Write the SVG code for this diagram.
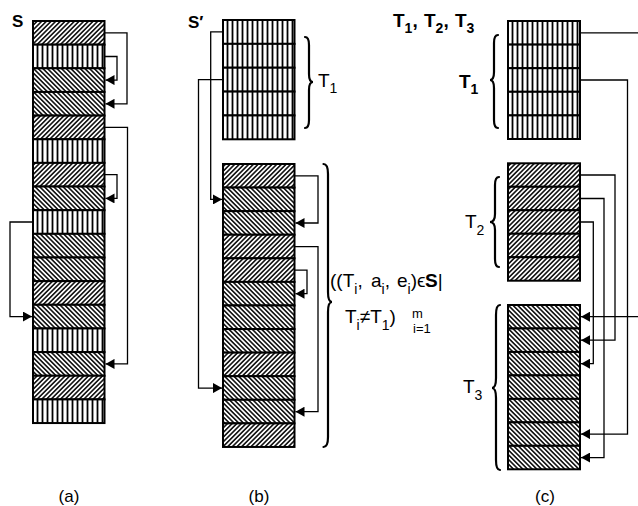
<svg xmlns="http://www.w3.org/2000/svg" width="638" height="506" viewBox="0 0 638 506">
<style>
.row{stroke:#000;stroke-width:2}
.v{fill:url(#pv)}
.f{fill:url(#pf)}
.b{fill:url(#pb)}
.con{fill:none;stroke:#000;stroke-width:1.3;marker-end:url(#ah)}
.brace{fill:none;stroke:#000;stroke-width:2.2;stroke-linecap:round}
text{font-family:"Liberation Sans",Arial,Helvetica,sans-serif;fill:#000}
.lbl{font-size:19px}
.bold{font-weight:bold}
.sub{font-size:14px}
.sm{font-size:13px}
.cap{font-size:17px}
</style>
<defs>
<pattern id="pv" patternUnits="userSpaceOnUse" width="5" height="8"><rect width="5" height="8" fill="#fff"/><line x1="2.5" y1="0" x2="2.5" y2="8" stroke="#000" stroke-width="1.8"/></pattern>
<pattern id="pf" patternUnits="userSpaceOnUse" width="3.3" height="8" patternTransform="rotate(45)"><rect width="3.3" height="8" fill="#fff"/><line x1="1.65" y1="0" x2="1.65" y2="8" stroke="#000" stroke-width="1.5"/></pattern>
<pattern id="pb" patternUnits="userSpaceOnUse" width="3.3" height="8" patternTransform="rotate(-45)"><rect width="3.3" height="8" fill="#fff"/><line x1="1.65" y1="0" x2="1.65" y2="8" stroke="#000" stroke-width="1.5"/></pattern>
<marker id="ah" markerUnits="userSpaceOnUse" markerWidth="10" markerHeight="10" refX="9" refY="5" orient="auto"><path d="M0,0 L9,5 L0,10 z" fill="#000"/></marker>
</defs>
<rect width="638" height="506" fill="#fff"/>

<!-- (a) sequence S -->
<g id="seqS">
<rect id="a1" class="row f" x="33" y="21" width="71.5" height="23.65"/>
<rect id="a2" class="row v" x="33" y="44.65" width="71.5" height="23.65"/>
<rect id="a3" class="row b" x="33" y="68.3" width="71.5" height="23.65"/>
<rect id="a4" class="row b" x="33" y="91.95" width="71.5" height="23.65"/>
<rect id="a5" class="row f" x="33" y="115.6" width="71.5" height="23.65"/>
<rect id="a6" class="row v" x="33" y="139.25" width="71.5" height="23.65"/>
<rect id="a7" class="row f" x="33" y="162.9" width="71.5" height="23.65"/>
<rect id="a8" class="row b" x="33" y="186.55" width="71.5" height="23.65"/>
<rect id="a9" class="row v" x="33" y="210.2" width="71.5" height="23.65"/>
<rect id="a10" class="row b" x="33" y="233.85" width="71.5" height="23.65"/>
<rect id="a11" class="row b" x="33" y="257.5" width="71.5" height="23.65"/>
<rect id="a12" class="row f" x="33" y="281.15" width="71.5" height="23.65"/>
<rect id="a13" class="row b" x="33" y="304.8" width="71.5" height="23.65"/>
<rect id="a14" class="row v" x="33" y="328.45" width="71.5" height="23.65"/>
<rect id="a15" class="row b" x="33" y="352.1" width="71.5" height="23.65"/>
<rect id="a16" class="row f" x="33" y="375.75" width="71.5" height="23.65"/>
<rect id="a17" class="row v" x="33" y="399.4" width="71.5" height="23.65"/>
</g>

<!-- (b) T1 block -->
<g id="sT1">
<rect id="bt1" class="row v" x="223" y="20" width="71.5" height="23.86"/>
<rect id="bt2" class="row v" x="223" y="43.86" width="71.5" height="23.86"/>
<rect id="bt3" class="row v" x="223" y="67.72" width="71.5" height="23.86"/>
<rect id="bt4" class="row v" x="223" y="91.58" width="71.5" height="23.86"/>
<rect id="bt5" class="row v" x="223" y="115.44" width="71.5" height="23.86"/>
</g>

<!-- (b) other block -->
<g id="sRest">
<rect id="b1" class="row f" x="223" y="164" width="71.5" height="23.58"/>
<rect id="b2" class="row b" x="223" y="187.58" width="71.5" height="23.58"/>
<rect id="b3" class="row b" x="223" y="211.16" width="71.5" height="23.58"/>
<rect id="b4" class="row f" x="223" y="234.74" width="71.5" height="23.58"/>
<rect id="b5" class="row f" x="223" y="258.32" width="71.5" height="23.58"/>
<rect id="b6" class="row b" x="223" y="281.9" width="71.5" height="23.58"/>
<rect id="b7" class="row b" x="223" y="305.48" width="71.5" height="23.58"/>
<rect id="b8" class="row b" x="223" y="329.06" width="71.5" height="23.58"/>
<rect id="b9" class="row f" x="223" y="352.64" width="71.5" height="23.58"/>
<rect id="b10" class="row b" x="223" y="376.22" width="71.5" height="23.58"/>
<rect id="b11" class="row b" x="223" y="399.8" width="71.5" height="23.58"/>
<rect id="b12" class="row f" x="223" y="423.38" width="71.5" height="23.58"/>
</g>

<!-- (c) T1 -->
<g id="cT1">
<rect id="c11" class="row v" x="508" y="21" width="72" height="23.6"/>
<rect id="c12" class="row v" x="508" y="44.6" width="72" height="23.6"/>
<rect id="c13" class="row v" x="508" y="68.2" width="72" height="23.6"/>
<rect id="c14" class="row v" x="508" y="91.8" width="72" height="23.6"/>
<rect id="c15" class="row v" x="508" y="115.4" width="72" height="23.6"/>
</g>
<!-- (c) T2 -->
<g id="cT2">
<rect id="c21" class="row f" x="508" y="163.3" width="72" height="23.48"/>
<rect id="c22" class="row f" x="508" y="186.78" width="72" height="23.48"/>
<rect id="c23" class="row f" x="508" y="210.26" width="72" height="23.48"/>
<rect id="c24" class="row f" x="508" y="233.74" width="72" height="23.48"/>
<rect id="c25" class="row f" x="508" y="257.22" width="72" height="23.48"/>
</g>
<!-- (c) T3 -->
<g id="cT3">
<rect id="c31" class="row b" x="508" y="305" width="72" height="23.47"/>
<rect id="c32" class="row b" x="508" y="328.47" width="72" height="23.47"/>
<rect id="c33" class="row b" x="508" y="351.94" width="72" height="23.47"/>
<rect id="c34" class="row b" x="508" y="375.41" width="72" height="23.47"/>
<rect id="c35" class="row b" x="508" y="398.88" width="72" height="23.47"/>
<rect id="c36" class="row b" x="508" y="422.35" width="72" height="23.47"/>
<rect id="c37" class="row b" x="508" y="445.82" width="72" height="23.47"/>
</g>

<!-- connectors -->
<g id="connectors">
<path class="con" d="M104.5,32.8 H127 V103.8 H105.5"/>
<path class="con" d="M104.5,56.5 H117 V80.1 H105.5"/>
<path class="con" d="M104.5,127.4 H127.5 V363.9 H105.5"/>
<path class="con" d="M104.5,174.7 H117 V198.4 H105.5"/>
<path class="con" d="M33,222 H10 V316.6 H32"/>

<path class="con" d="M223,31.9 H210.7 V199.4 H222"/>
<path class="con" d="M223,79.6 H198.5 V388.1 H222"/>
<path class="con" d="M294.5,175.8 H318 V223 H295.5"/>
<path class="con" d="M294.5,246.6 H318 V411.7 H295.5"/>
<path class="con" d="M294.5,270.2 H307 V293.7 H295.5"/>

<path class="con" d="M580,32.8 H641 V316.7 H581"/>
<path class="con" d="M580,80 H627.5 V434.1 H581"/>
<path class="con" d="M580,175 H615 V340.2 H581"/>
<path class="con" d="M580,198.5 H604 V457.6 H581"/>
<path class="con" d="M580,222 H593.3 V363.7 H581"/>
</g>

<!-- braces -->
<g id="braces">
<path class="brace" d="M305,37 Q309,37 309,45 V74 Q309,82 313,82 Q309,82 309,90 V120 Q309,128 305,128"/>
<path class="brace" d="M323.5,164 Q328,164 328,174 V292 Q328,302 332,302 Q328,302 328,312 V437 Q328,447 323.5,447"/>
<path class="brace" d="M498,35 Q494,35 494,43 V72 Q494,80 490,80 Q494,80 494,88 V120 Q494,128 498,128"/>
<path class="brace" d="M499,177 Q495,177 495,185 V214 Q495,222 490,222 Q495,222 495,230 V259 Q495,267 499,267"/>
<path class="brace" d="M500,305 Q496,305 496,315 V378 Q496,388 492,388 Q496,388 496,398 V460 Q496,470 500,470"/>
</g>

<!-- labels -->
<g id="labels">
<text class="cap bold" x="12" y="27">S</text>
<text class="cap bold" x="188" y="28">S′</text>
<text class="lbl bold" x="393" y="27">T<tspan class="sub" y="33">1</tspan><tspan y="27">,</tspan><tspan x="424" y="27">T</tspan><tspan class="sub" y="33">2</tspan><tspan y="27">,</tspan><tspan x="455" y="27">T</tspan><tspan class="sub" y="33">3</tspan></text>

<text class="lbl" x="318" y="87">T<tspan class="sub" y="93">1</tspan></text>
<text class="lbl bold" x="459" y="88">T<tspan class="sub" y="94">1</tspan></text>
<text class="lbl" x="465" y="228">T<tspan class="sub" y="235">2</tspan></text>
<text class="lbl" x="463" y="393">T<tspan class="sub" y="400">3</tspan></text>

<text class="lbl" x="330" y="287">((T<tspan class="sub" y="294">i</tspan><tspan y="287">,</tspan><tspan x="371" y="287">a</tspan><tspan class="sub" y="294">i</tspan><tspan y="287">,</tspan><tspan x="397" y="287">e</tspan><tspan class="sub" y="294">i</tspan><tspan y="287">)ϵ</tspan><tspan class="bold" x="425" y="287">S</tspan><tspan y="287">|</tspan></text>
<text class="lbl" x="345" y="323">T<tspan class="sub" y="330">i</tspan><tspan y="323">≠T</tspan><tspan class="sub" y="330">1</tspan><tspan y="323">)</tspan></text>
<text class="sm" x="412" y="318">m</text>
<text class="sm" x="413" y="333">i=1</text>

<text class="cap" x="69" y="502" text-anchor="middle">(a)</text>
<text class="cap" x="259" y="502" text-anchor="middle">(b)</text>
<text class="cap" x="545" y="502" text-anchor="middle">(c)</text>
</g>
</svg>
